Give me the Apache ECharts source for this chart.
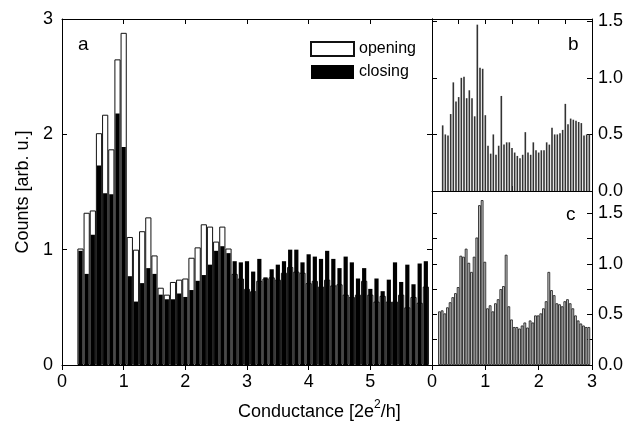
<!DOCTYPE html>
<html><head><meta charset="utf-8">
<script src="https://cdn.jsdelivr.net/npm/echarts@6/dist/echarts.min.js"></script>
<style>html,body{margin:0;padding:0;background:#fff}#c{width:639px;height:431px}</style>
</head><body><div id="c"></div>
<script>
const FONT = '"Liberation Sans", Arial, Helvetica, sans-serif';

// ---- Panel a: conductance histogram (bin centres, 2e^2/h) ----
const binsA = [0.3,0.4,0.5,0.6,0.7,0.8,0.9,1.0,1.1,1.2,1.3,1.4,1.5,1.6,1.7,1.8,1.9,2.0,2.1,2.2,2.3,2.4,2.5,2.6,2.7,2.8,2.9,3.0,3.1,3.2,3.3,3.4,3.5,3.6,3.7,3.8,3.9,4.0,4.1,4.2,4.3,4.4,4.5,4.6,4.7,4.8,4.9,5.0,5.1,5.2,5.3,5.4,5.5,5.6,5.7,5.8,5.9];
const openingA = [1.01,1.32,1.34,2.01,2.17,1.87,2.65,2.88,1.11,1.00,1.16,1.28,0.95,0.67,0.61,0.72,0.74,0.75,0.93,1.02,1.22,1.20,1.07,1.20,1.01,0.79,0.75,0.66,0.64,0.73,0.75,0.76,0.74,0.80,0.85,0.81,0.80,0.71,0.73,0.68,0.74,0.69,0.70,0.61,0.59,0.61,0.73,0.61,0.55,0.60,0.55,0.55,0.61,0.50,0.59,0.54,0.68];
const closingA = [0.99,0.79,1.13,1.73,1.49,1.48,2.18,1.89,0.77,0.55,0.71,0.84,0.79,0.61,0.57,0.57,0.62,0.59,0.65,0.73,0.78,0.87,0.99,1.03,0.97,0.90,0.89,0.90,0.81,0.92,0.76,0.83,0.87,0.90,1.00,1.00,0.89,0.96,0.94,0.92,0.99,0.92,0.84,0.94,0.89,0.75,0.84,0.66,0.75,0.64,0.74,0.89,0.72,0.87,0.70,0.88,0.90];

// ---- Panel b ----
const binsB = [0.2,0.25,0.3,0.35,0.4,0.45,0.5,0.55,0.6,0.65,0.7,0.75,0.8,0.85,0.9,0.95,1.0,1.05,1.1,1.15,1.2,1.25,1.3,1.35,1.4,1.45,1.5,1.55,1.6,1.65,1.7,1.75,1.8,1.85,1.9,1.95,2.0,2.05,2.1,2.15,2.2,2.25,2.3,2.35,2.4,2.45,2.5,2.55,2.6,2.65,2.7,2.75,2.8,2.85,2.9,2.95];
const countsB = [0.58,0.50,0.49,0.68,0.96,0.79,0.83,1.00,1.01,0.82,0.89,0.82,0.66,1.47,1.09,1.08,0.67,0.40,0.33,0.50,0.32,0.40,0.84,0.41,0.43,0.43,0.38,0.34,0.31,0.29,0.32,0.52,0.34,0.32,0.43,0.36,0.34,0.36,0.36,0.43,0.41,0.56,0.50,0.50,0.51,0.54,0.77,0.59,0.64,0.63,0.62,0.61,0.60,0.49,0.50,0.50];

// ---- Panel c ----
const binsC = [0.14,0.19,0.24,0.29,0.34,0.39,0.44,0.49,0.54,0.59,0.64,0.69,0.74,0.79,0.84,0.89,0.94,0.99,1.04,1.09,1.14,1.19,1.24,1.29,1.34,1.39,1.44,1.49,1.54,1.59,1.64,1.69,1.74,1.79,1.84,1.89,1.94,1.99,2.04,2.09,2.14,2.19,2.24,2.29,2.34,2.39,2.44,2.49,2.54,2.59,2.64,2.69,2.74,2.79,2.84,2.89,2.94];
const countsC = [0.53,0.54,0.51,0.57,0.62,0.67,0.71,0.77,1.08,1.07,1.15,1.01,0.92,1.07,1.26,1.58,1.63,1.02,0.56,0.59,0.53,0.61,0.65,0.75,0.78,1.09,0.58,0.45,0.375,0.375,0.36,0.39,0.42,0.37,0.44,0.42,0.49,0.49,0.51,0.56,0.63,0.92,0.74,0.69,0.61,0.60,0.58,0.63,0.65,0.61,0.56,0.49,0.44,0.41,0.39,0.375,0.375];

const ticksA = [0,1,2,3,4,5];
const ticksBC = [0,1,2,3];

const pairs = (xs, ys) => xs.map((x, i) => [x, ys[i]]);
const line = {show:true, onZero:false, lineStyle:{color:'#000', width:1}};
const noSplit = {show:false};
const lbl = {fontSize:18, color:'#000', fontFamily:FONT};

const option = {
  animation:false,
  textStyle:{fontFamily:FONT},
  legend:{
    data:['opening','closing'], orient:'vertical', left:310, top:41, padding:0,
    itemWidth:43, itemHeight:14, itemGap:7, selectedMode:false, icon:'rect',
    textStyle:{fontSize:16, color:'#000', fontFamily:FONT}
  },
  grid:[
    {left:62, top:19, width:370, height:346},
    {left:432, top:19, width:160, height:172},
    {left:432, top:191, width:160, height:174}
  ],
  xAxis:[
    {gridIndex:0, type:'value', min:0, max:6, interval:1, position:'bottom', axisLine:line,
     axisTick:{inside:false, length:5, lineStyle:{color:'#000'}}, splitLine:noSplit,
     axisLabel:Object.assign({margin:8, formatter:v => ticksA.includes(v) ? String(v) : ''}, lbl)},
    {gridIndex:0, type:'value', min:0, max:6, interval:1, position:'top', axisLine:line,
     axisTick:{inside:true, length:5, lineStyle:{color:'#000'}}, axisLabel:{show:false}, splitLine:noSplit},
    {gridIndex:1, type:'value', min:0, max:3, interval:0.5, position:'bottom', axisLine:line,
     axisTick:{inside:true, length:5, lineStyle:{color:'#000'}}, axisLabel:{show:false}, splitLine:noSplit},
    {gridIndex:1, type:'value', min:0, max:3, interval:0.5, position:'top', axisLine:line,
     axisTick:{inside:true, length:5, lineStyle:{color:'#000'}}, axisLabel:{show:false}, splitLine:noSplit},
    {gridIndex:2, type:'value', min:0, max:3, interval:1, position:'bottom', axisLine:line,
     axisTick:{inside:false, length:5, lineStyle:{color:'#000'}}, splitLine:noSplit,
     axisLabel:Object.assign({margin:8, formatter:v => ticksBC.includes(v) ? String(v) : ''}, lbl)}
  ],
  yAxis:[
    {gridIndex:0, type:'value', min:0, max:3, interval:1, position:'left', axisLine:line,
     name:'Counts [arb. u.]', nameLocation:'middle', nameGap:28,
     nameTextStyle:{fontSize:18, color:'#000', fontFamily:FONT},
     axisTick:{inside:true, length:5, lineStyle:{color:'#000'}}, splitLine:noSplit,
     axisLabel:Object.assign({margin:9}, lbl)},
    {gridIndex:0, type:'value', min:0, max:3, interval:1, position:'right', axisLine:line,
     axisTick:{inside:true, length:5, lineStyle:{color:'#000'}}, axisLabel:{show:false}, splitLine:noSplit},
    {gridIndex:1, type:'value', min:0, max:1.52, interval:0.5, position:'left', axisLine:line,
     axisTick:{inside:true, length:5, lineStyle:{color:'#000'}}, axisLabel:{show:false}, splitLine:noSplit},
    {gridIndex:1, type:'value', min:0, max:1.52, interval:0.5, position:'right', axisLine:line,
     axisTick:{inside:true, length:5, lineStyle:{color:'#000'}}, splitLine:noSplit,
     axisLabel:Object.assign({margin:6, formatter:v => (Math.abs(v*2 - Math.round(v*2)) < 1e-6 ? v.toFixed(1) : '')}, lbl)},
    {gridIndex:2, type:'value', min:0, max:1.72, interval:0.25, position:'left', axisLine:line,
     axisTick:{inside:true, length:5, lineStyle:{color:'#000'}}, axisLabel:{show:false}, splitLine:noSplit},
    {gridIndex:2, type:'value', min:0, max:1.72, interval:0.25, position:'right', axisLine:line,
     axisTick:{inside:true, length:5, lineStyle:{color:'#000'}}, splitLine:noSplit,
     axisLabel:Object.assign({margin:6, formatter:v => (Math.abs(v*2 - Math.round(v*2)) < 1e-6 ? v.toFixed(1) : '')}, lbl)}
  ],
  series:[
    {type:'bar', name:'opening', xAxisIndex:0, yAxisIndex:0, data:pairs(binsA, openingA),
     barWidth:6.2, itemStyle:{color:'#fff', borderColor:'#111', borderWidth:1}, z:2},
    {type:'bar', name:'closing', xAxisIndex:1, yAxisIndex:0, data:pairs(binsA, closingA),
     barWidth:4.2, itemStyle:{color:'#000', borderWidth:0}, z:3},
    {type:'bar', name:'b', xAxisIndex:2, yAxisIndex:2, data:pairs(binsB, countsB),
     barWidth:1.6, itemStyle:{color:'#333'}},
    {type:'bar', name:'c', xAxisIndex:4, yAxisIndex:4, data:pairs(binsC, countsC),
     barWidth:2.7, itemStyle:{color:'#c8c8c8', borderColor:'#111', borderWidth:0.8}}
  ],
  graphic:[
    {type:'text', left:78, top:35, style:{text:'a', fontSize:19, fill:'#000', font:'19px ' + FONT}},
    {type:'text', left:568, top:35, style:{text:'b', fontSize:19, fill:'#000', font:'19px ' + FONT}},
    {type:'text', left:566, top:205, style:{text:'c', fontSize:19, fill:'#000', font:'19px ' + FONT}},
    {type:'text', left:238, top:399, style:{
      text:'{n|Conductance [2e}{s|2}{n|/h]}', fill:'#000',
      rich:{n:{fontSize:18, fontFamily:FONT, fill:'#000', lineHeight:22, verticalAlign:'bottom'},
            s:{fontSize:12, fontFamily:FONT, fill:'#000', lineHeight:22, verticalAlign:'top'}}
    }}
  ]
};
const chart = echarts.init(document.getElementById('c'), null, {renderer:'canvas'});
chart.setOption(option);
</script></body></html>
